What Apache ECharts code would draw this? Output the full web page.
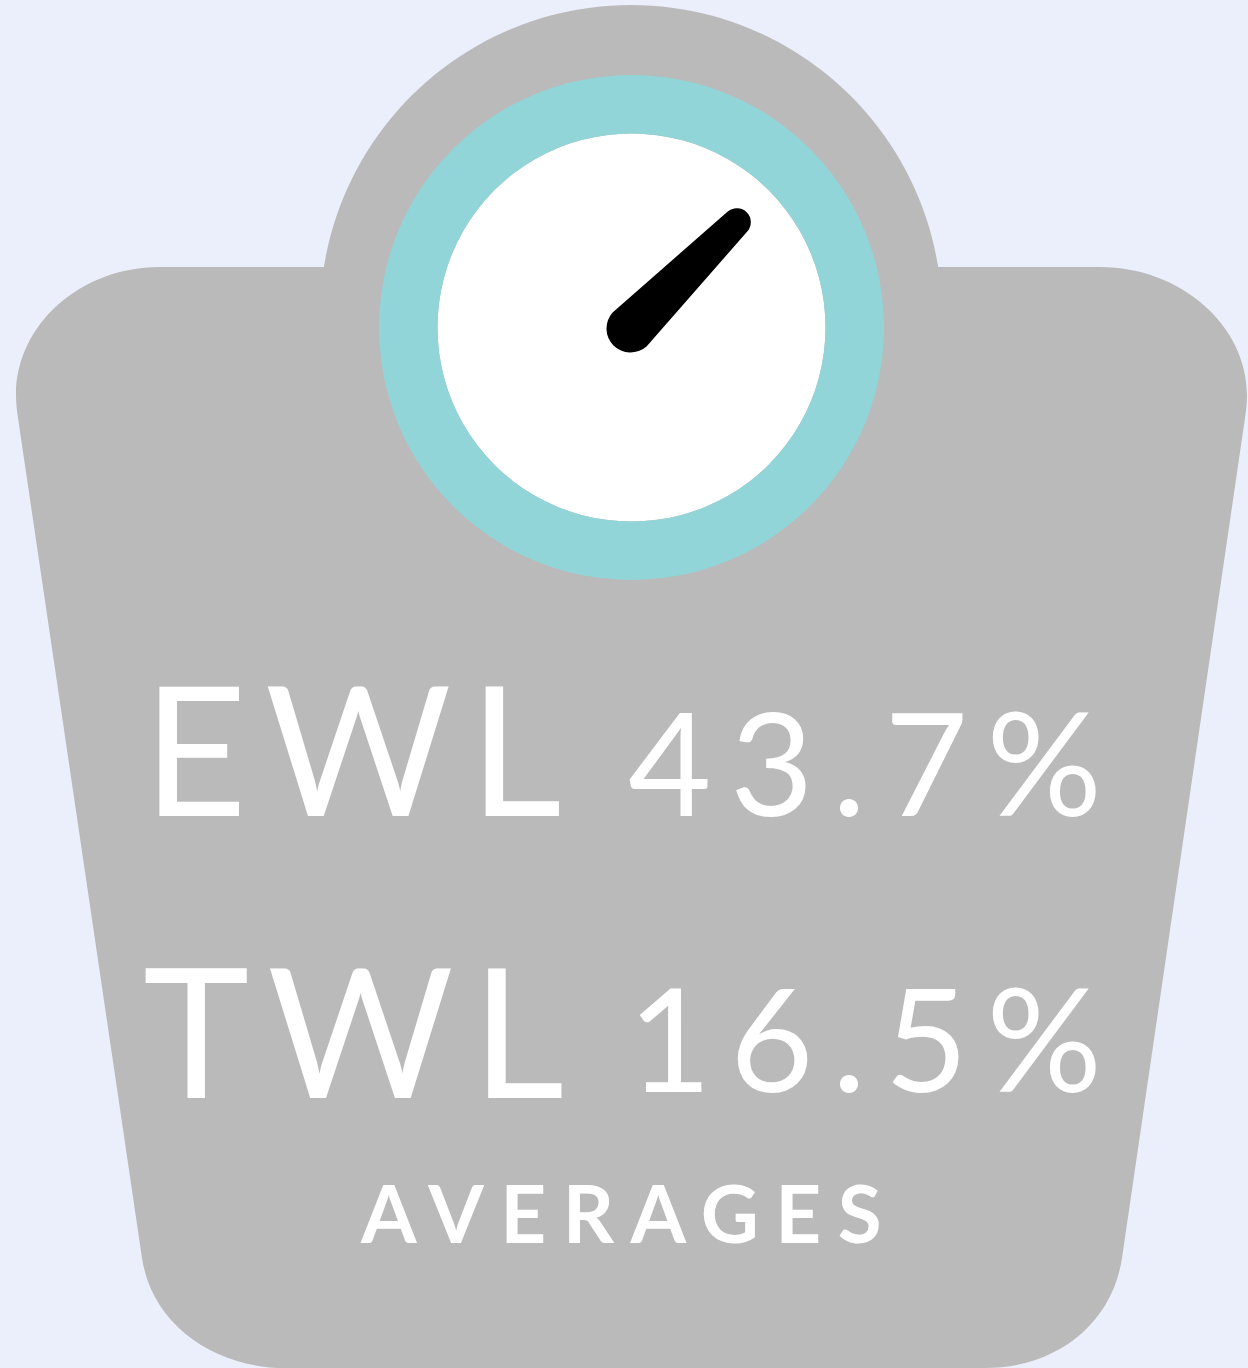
<!DOCTYPE html>
<html>
<head>
<meta charset="utf-8">
<style>
	html, body { margin: 0; padding: 0; background: #EAEFFB; }
	#main { width: 1248px; height: 1368px; }
	/* zrender has no letterSpacing, so the svg text gets it from here */
	#main text[style*=" 180px"] { letter-spacing: 18px; }
	#main text[style*=" 144px"] { letter-spacing: 18.5px; }
	#main text[style*=" 80px"] { letter-spacing: 16.4px; }
</style>
<script src="https://cdn.jsdelivr.net/npm/echarts@6/dist/echarts.min.js"></script>
</head>
<body>
<div id="main"></div>
<script>
	var labels = ['EWL', 'TWL'];
	var values = [43.7, 16.5];
	var caption = 'AVERAGES';
	// needle position on a full-circle dial
	var needleValue = 12.5;

	var cx = 631.5, cy = 327.5;
	var bodyPath = 'M160 267 L1100 267 C1180 267 1247 325 1247 395 C1247 403 1246.2 410 1245 418 ' +
		'L1122 1258 C1112 1325 1055 1368 985 1368 L285 1368 C215 1368 152 1325 142 1258 ' +
		'L18 418 C16.8 410 16 403 16 395 C16 325 80 267 160 267 Z';
	var needlePath = 'path://M10.03 13.07 A14 14 0 0 1 37.97 13.07 L47.95 163.41 A24 24 0 0 1 0.05 163.41 Z';

	echarts.graphic.registerShape('scaleBody', echarts.graphic.extendPath(bodyPath, {}));

	var mainDiv = echarts.init(document.getElementById('main'), null, { renderer: 'svg' });

	var option = {
		backgroundColor: '#EAEFFB',
		animation: false,
		graphic: [
			{ type: 'scaleBody', z: 0, style: { fill: '#BABABA' } },
			{ type: 'circle', z: 0, shape: { cx: 631, cy: 316, r: 311 }, style: { fill: '#BABABA' } },
			{ type: 'circle', z: 1, shape: { cx: cx, cy: cy, r: 194 }, style: { fill: '#FFFFFF' } },
			{ type: 'text', z: 3, style: { text: labels[0], x: 143, y: 746, fill: '#fff', font: '400 180px Lato', textAlign: 'left', textVerticalAlign: 'middle' } },
			{ type: 'text', z: 3, style: { text: values[0] + '%', x: 628, y: 760, fill: '#fff', font: '400 144px Lato', textAlign: 'left', textVerticalAlign: 'middle' } },
			{ type: 'text', z: 3, style: { text: labels[1], x: 143, y: 1028, fill: '#fff', font: '400 180px Lato', textAlign: 'left', textVerticalAlign: 'middle' } },
			{ type: 'text', z: 3, style: { text: values[1] + '%', x: 628, y: 1036, fill: '#fff', font: '400 144px Lato', textAlign: 'left', textVerticalAlign: 'middle' } },
			{ type: 'text', z: 3, style: { text: caption, x: 361, y: 1212, fill: '#fff', font: '700 80px Lato', textAlign: 'left', textVerticalAlign: 'middle' } }
		],
		series: [{
			type: 'gauge',
			center: [cx, cy],
			radius: 252.5,
			startAngle: 90,
			endAngle: -270,
			min: 0,
			max: 100,
			axisLine: { lineStyle: { width: 58.5, color: [[1, '#92D5D8']] } },
			axisTick: { show: false },
			splitLine: { show: false },
			axisLabel: { show: false },
			title: { show: false },
			detail: { show: false },
			anchor: { show: false },
			pointer: {
				icon: needlePath,
				length: 188.5,
				width: 48,
				offsetCenter: [0, 25.5],
				itemStyle: { color: '#000000' }
			},
			data: [{ value: needleValue }]
		}]
	};

	mainDiv.setOption(option, true);
</script>
</body>
</html>
